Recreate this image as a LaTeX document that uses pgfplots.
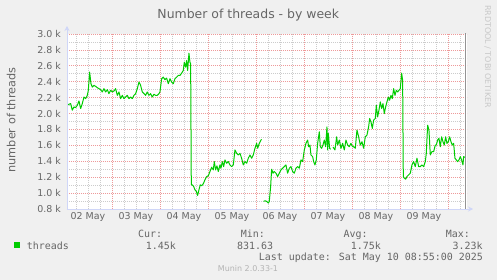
\documentclass[border=0pt]{standalone}
\usepackage{fontspec}
\setmainfont{DejaVu Sans}
\newfontfamily\monofont{DejaVu Sans Mono}
\usepackage{pgfplots}
\pgfplotsset{compat=1.18}
\usepackage{pgfplotstable}
\usetikzlibrary{arrows.meta}
\definecolor{bgc}{HTML}{F0F0F0}
\definecolor{fontc}{HTML}{666666}
\definecolor{axisc}{HTML}{CFD6F8}
\definecolor{mgridc}{HTML}{EE9A9A}
\definecolor{gridc}{HTML}{CCCCCC}
\definecolor{linec}{HTML}{00CC00}
\definecolor{wmc}{HTML}{C8C8C8}

\pgfplotstableread{
h v
1.65 2.104
2.48 2.117
3.32 2.125
4.15 2.042
4.98 2.083
5.82 2.075
6.65 2.104
7.48 2.158
8.32 2.063
9.15 2.125
9.98 2.208
10.82 2.188
11.65 2.229
12.15 2.292
12.82 2.521
13.48 2.375
14.15 2.333
14.98 2.354
15.82 2.342
16.65 2.325
17.48 2.313
18.32 2.300
19.15 2.271
19.98 2.313
20.82 2.271
21.65 2.300
22.48 2.250
23.32 2.292
24.15 2.271
24.98 2.283
25.82 2.313
26.65 2.229
27.48 2.271
28.32 2.188
29.15 2.229
29.98 2.188
30.82 2.208
31.65 2.229
32.48 2.188
33.32 2.208
34.15 2.188
34.98 2.229
35.82 2.250
36.65 2.313
37.48 2.396
38.32 2.354
39.15 2.271
39.98 2.250
40.82 2.229
41.65 2.271
42.48 2.229
43.32 2.250
44.15 2.208
44.98 2.242
45.82 2.229
46.65 2.229
47.48 2.250
47.98 2.271
48.82 2.438
49.65 2.458
50.48 2.425
51.32 2.446
52.15 2.375
52.98 2.438
53.82 2.396
54.65 2.375
55.48 2.438
56.32 2.458
57.15 2.479
57.98 2.479
58.82 2.508
59.65 2.542
60.15 2.646
60.82 2.583
61.32 2.667
61.82 2.542
62.48 2.758
62.98 2.646
63.32 2.625
63.65 1.104
64.15 1.104
64.82 1.083
65.48 1.042
66.15 1.021
66.82 0.971
67.48 1.042
68.15 1.104
68.82 1.092
69.65 1.117
70.48 1.167
71.32 1.208
72.15 1.217
72.98 1.271
73.82 1.325
74.65 1.292
75.15 1.396
75.82 1.292
76.48 1.342
77.15 1.271
77.98 1.354
78.48 1.313
79.15 1.396
79.82 1.333
80.48 1.417
81.32 1.375
82.15 1.396
82.98 1.354
83.82 1.333
84.65 1.354
85.48 1.542
86.32 1.500
87.15 1.479
87.98 1.500
88.82 1.438
89.65 1.354
90.48 1.396
91.32 1.375
92.15 1.438
92.98 1.479
93.82 1.438
94.65 1.479
95.48 1.563
96.32 1.625
96.82 1.563
97.65 1.625
98.48 1.667
98.82 1.675
99.3 nan
99.82 0.896
100.48 0.904
101.32 0.896
102.15 0.875
102.65 0.896
103.32 1.083
103.82 1.300
104.48 1.250
105.15 1.271
105.98 1.250
106.82 1.208
107.65 1.250
108.48 1.292
109.32 1.313
110.15 1.333
110.98 1.354
111.82 1.250
112.65 1.313
113.48 1.333
114.32 1.271
115.15 1.250
115.98 1.313
116.82 1.333
117.65 1.313
118.48 1.417
119.32 1.396
120.15 1.542
120.98 1.625
121.82 1.667
122.32 1.583
122.98 1.604
123.48 1.479
124.32 1.458
124.82 1.396
125.48 1.354
126.15 1.417
126.82 1.625
127.65 1.771
128.15 1.583
128.82 1.563
129.48 1.604
130.15 1.667
130.82 1.583
131.48 1.833
131.82 1.542
132.15 1.750
132.82 1.563
133.3 1.550
133.9 nan
134.5 1.580
135.48 1.542
136.32 1.708
136.82 1.604
137.65 1.667
138.48 1.563
139.32 1.625
140.15 1.542
140.98 1.667
141.82 1.604
142.65 1.583
143.48 1.625
144.32 1.583
144.82 1.583
145.65 1.563
146.48 1.792
147.32 1.708
148.15 1.604
148.98 1.646
149.82 1.563
150.65 1.708
151.48 1.729
152.32 1.833
152.82 1.938
153.48 1.896
154.15 1.813
154.82 1.917
155.65 1.938
156.15 2.104
156.82 1.958
157.48 2.042
158.15 2.146
158.82 2.063
159.48 2.125
160.15 2.000
160.82 2.083
161.48 2.146
162.15 2.208
162.82 2.167
163.48 2.229
164.15 2.188
164.82 2.313
165.48 2.229
166.15 2.292
166.82 2.271
167.48 2.292
168.15 2.313
168.82 2.508
169.32 2.417
169.65 1.208
170.15 1.188
170.82 1.175
171.48 1.208
172.32 1.229
173.15 1.250
173.98 1.354
174.82 1.396
175.65 1.333
176.48 1.438
177.32 1.333
178.15 1.333
178.98 1.354
179.82 1.333
180.65 1.396
181.15 1.500
181.82 1.854
182.48 1.792
183.15 1.479
183.98 1.521
184.82 1.521
185.65 1.604
186.15 1.604
186.82 1.667
187.48 1.688
188.15 1.583
188.82 1.708
189.48 1.646
190.15 1.604
190.82 1.708
191.48 1.625
192.15 1.646
192.82 1.708
193.48 1.646
194.15 1.604
194.82 1.625
195.48 1.438
196.15 1.417
196.82 1.396
197.48 1.417
198.15 1.458
198.82 1.417
199.48 1.354
199.82 1.458
200.48 1.450
}\threads

\begin{document}
\begin{tikzpicture}
\fill[bgc] (-67bp,-71bp) rectangle (430bp,209bp);
\begin{axis}[
  at={(0bp,0bp)}, anchor=south west,
  scale only axis, width=400bp, height=175bp,
  xmin=1.5, xmax=201.5, ymin=0.8, ymax=3.0,
  unbounded coords=jump,
  axis background/.style={fill=white},
  axis line style={draw=none},
  tick style={draw=none},
  xtick={24,48,72,96,120,144,168,192},
  xticklabels={,,,,,,,},
  minor xtick={6,12,18,30,36,42,54,60,66,78,84,90,102,108,114,126,132,138,150,156,162,174,180,186,198},
  extra x ticks={12,36,60,84,108,132,156,180},
  extra x tick labels={02 May,03 May,04 May,05 May,06 May,07 May,08 May,09 May},
  extra x tick style={grid=none},
  ytick={0.8,1.0,...,3.0},
  minor y tick num=1,
  grid=both,
  major grid style={mgridc, line width=0.7bp, dash pattern=on 1bp off 1bp},
  minor grid style={gridc, line width=0.7bp, dash pattern=on 1bp off 1bp},
  /pgf/number format/assume math mode=true,
  yticklabel={\pgfmathprintnumber[fixed,fixed zerofill,precision=1]{\tick} k},
  ticklabel style={font=\fontsize{9.5}{11}\selectfont, text=fontc, inner sep=0pt},
  yticklabel style={anchor=east, xshift=-6bp},
  xticklabel style={anchor=base, yshift=-10.6bp},
]
\addplot[linec, line width=1bp, line join=round] table[x=h, y=v] {\threads};
\end{axis}
% axes arrows and now-line
\draw[gray!85, line width=1bp] (398.5bp,0bp) -- (398.5bp,176.3bp);
\draw[axisc, line width=1bp, -{Stealth[length=5bp,width=5bp]}] (0bp,0bp) -- (406bp,0bp);
\draw[axisc, line width=1bp, -{Stealth[length=5bp,width=5bp]}] (0bp,0bp) -- (0bp,183bp);
% title and labels
\node[anchor=base, inner sep=0pt, text=fontc, font=\fontsize{12.5}{14}\selectfont] at (181.3bp,190.7bp) {Number of threads - by week};
\node[anchor=base, rotate=90, inner sep=0pt, text=fontc, font=\fontsize{11.3}{13}\selectfont] at (-51.7bp,89bp) {number of threads};
\node[anchor=base, rotate=-90, inner sep=0pt, text=wmc, font=\fontsize{8}{9}\selectfont] at (418bp,152.5bp) {RRDTOOL / TOBI OETIKER};
% legend
\fill[linec] (-53bp,-33bp) rectangle (-47bp,-39bp);
\begin{scope}[every node/.style={inner sep=0pt, text=fontc, font=\monofont\fontsize{10}{12}\selectfont}]
\node[anchor=base west] at (-40.3bp,-40bp) {threads};
\node[anchor=base east] at (95.3bp,-28.3bp) {Cur:};
\node[anchor=base east] at (198bp,-28.3bp) {Min:};
\node[anchor=base east] at (300.7bp,-28.3bp) {Avg:};
\node[anchor=base east] at (403bp,-28.3bp) {Max:};
\node[anchor=base east] at (109bp,-40bp) {1.45k};
\node[anchor=base east] at (206.3bp,-40bp) {831.63};
\node[anchor=base east] at (314bp,-40bp) {1.75k};
\node[anchor=base east] at (415.7bp,-40bp) {3.23k};
\node[anchor=base east] at (416bp,-51.5bp) {Last update: Sat May 10 08:55:00 2025};
\end{scope}
\node[anchor=base, inner sep=0pt, text=wmc!90!black, font=\fontsize{8}{9}\selectfont] at (181bp,-62.7bp) {Munin 2.0.33-1};
\pgfresetboundingbox
\path[use as bounding box] (-67bp,-71bp) rectangle (430bp,209bp);
\end{tikzpicture}
\end{document}
